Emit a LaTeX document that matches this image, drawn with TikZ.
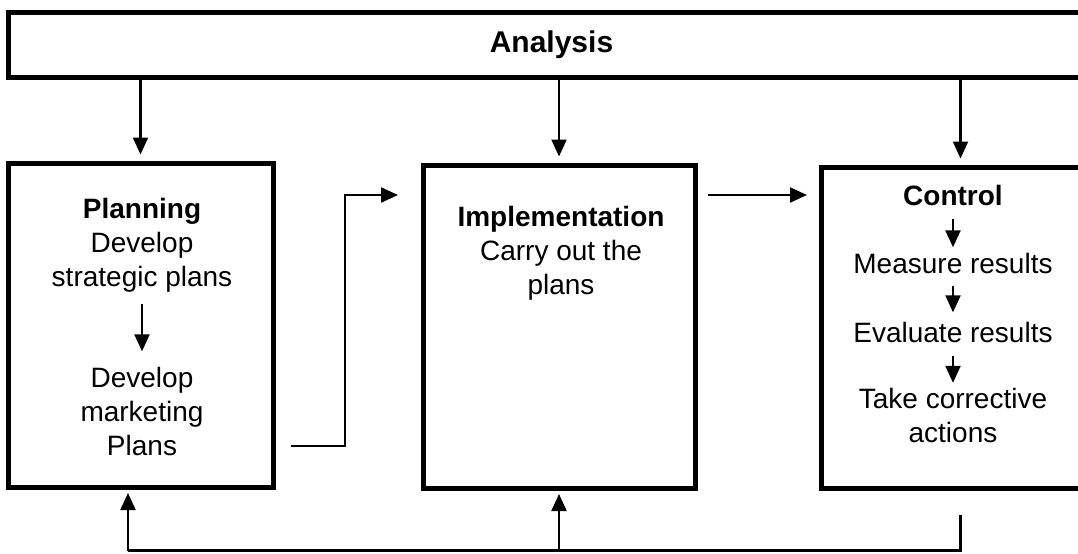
\documentclass[tikz,border=0pt]{standalone}
\usepackage{fontspec}
\setmainfont{Liberation Sans}
\usetikzlibrary{arrows.meta, positioning}

\begin{document}
\begin{tikzpicture}[x=0.5pt, y=-0.5pt, font=\fontsize{14pt}{17pt}\selectfont]
      \tikzstyle{box} = [rectangle, draw=black, line width=2.5pt, inner sep=0pt]
      \tikzstyle{txt} = [align=center, inner sep=0pt]
      \tikzstyle{connect} = [-{Triangle[length=8.5pt, width=7.5pt]}, line width=1.1pt]
      \useasboundingbox (0,0) rectangle (1078,553);
      % boxes
      \node[box, minimum width=543.5pt, minimum height=32.5pt, font=\fontsize{15pt}{17pt}\selectfont] (analysis) at (551.5,44.5) {\textbf{Analysis}};
      \node[box, minimum width=132.5pt, minimum height=162pt] (planbox) at (140.5,325) {};
      \node[box, minimum width=136pt, minimum height=161.5pt] (implbox) at (559,326.5) {};
      \node[box, minimum width=139.5pt, minimum height=160.5pt] (ctrlbox) at (960.5,327.5) {};
      % texts
      \node[txt] (plantop) at (142,245) {\textbf{Planning}\\Develop\\strategic plans};
      \node[txt] (planbot) at (142,411) {Develop\\marketing\\Plans};
      \node[txt] (impltext) at (561,253.5) {\textbf{Implementation}\\Carry out the\\plans};
      \node[txt] (ctrltitle) at (953,195) {\textbf{Control}};
      \node[txt] (measure) at (953,263) {Measure results};
      \node[txt] (evaluate) at (953,332) {Evaluate results};
      \node[txt] (correct) at (953,415.5) {Take corrective\\actions};
      % analysis feeds all three
      \draw[connect, shorten >=3pt] (analysis.south -| planbox.north) -- (planbox.north);
      \draw[connect, shorten >=3pt] (analysis.south -| implbox.north) -- (implbox.north);
      \draw[connect, shorten >=3pt] (analysis.south -| ctrlbox.north) -- (ctrlbox.north);
      % inner steps
      \draw[connect, shorten <=6pt, shorten >=7.5pt] (plantop.south) -- (planbot.north);
      \draw[connect, shorten <=6.5pt, shorten >=2.5pt] (ctrltitle.south) -- (measure.north);
      \draw[connect, shorten <=6pt, shorten >=4.5pt] (measure.south) -- (evaluate.north);
      \draw[connect, shorten <=6.5pt, shorten >=2.5pt] (evaluate.south) -- (correct.north);
      % flow between boxes
      \draw[connect] ([shift={(7.75pt,-60.5pt)}]planbox.east) -- ++(27pt,0) |- ([shift={(-11.25pt,65.75pt)}]implbox.west);
      \draw[connect, shorten <=5.25pt, shorten >=5.75pt] (implbox.east |- ctrltitle) -- (ctrlbox.west |- ctrltitle);
      % feedback
      \coordinate (fbplan) at (128,550.5);
      \coordinate (fbimpl) at (559,550.5);
      \coordinate (fbctrl) at (960.5,550.5);
      \draw[line width=1.1pt] ([yshift=-12.25pt]ctrlbox.south) -- (fbctrl) -- (fbplan);
      \draw[connect, shorten >=1.75pt] (fbplan) -- (fbplan |- planbox.south);
      \draw[connect, shorten >=1.75pt] (fbimpl) -- (implbox.south);
    \end{tikzpicture}
\end{document}
